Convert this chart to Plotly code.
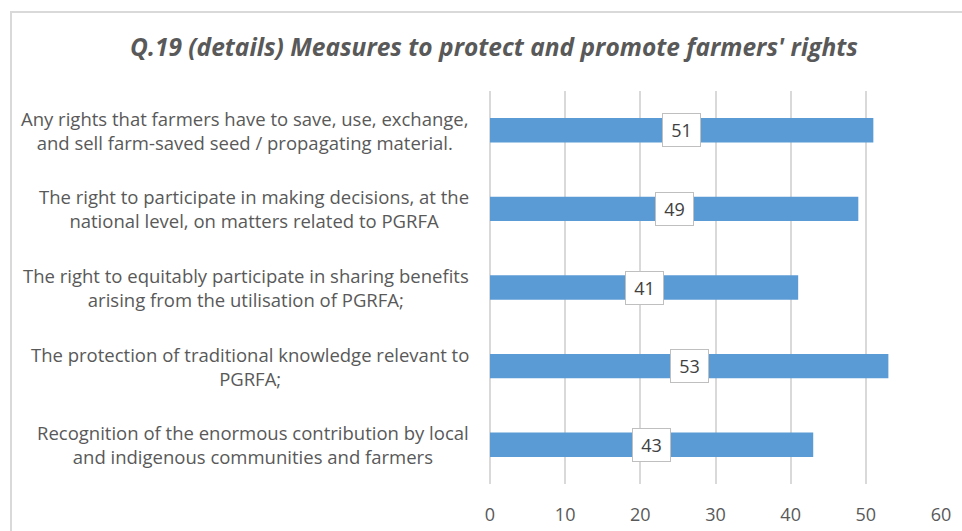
import plotly.graph_objects as go

# Survey items (top to bottom) and the number of responses for each
categories = [
    "Any rights that farmers have to save, use, exchange,<br>and sell farm-saved seed / propagating material.",
    "The right to participate in making decisions, at the<br>national level, on matters related to PGRFA",
    "The right to equitably participate in sharing benefits<br>arising from the utilisation of PGRFA;",
    "The protection of traditional knowledge relevant to<br>PGRFA;",
    "Recognition of the enormous contribution by local<br>and indigenous communities and farmers",
]
values = [51, 49, 41, 53, 43]
x_ticks = [0, 10, 20, 30, 40, 50, 60]

W, H = 962, 531
ML, MR, MT, MB = 490, 21, 91, 47

BAR = "#5B9BD5"
GRID = "#D9D9D9"
TEXT = "#595959"
FONT = "Open Sans"

fig = go.Figure(
    go.Bar(
        x=values,
        y=list(range(len(categories))),
        orientation="h",
        marker=dict(color=BAR, line=dict(width=0)),
        width=0.31,
        hoverinfo="x",
    )
)

# value labels in boxes, centred on each bar
for i, v in enumerate(values):
    fig.add_annotation(
        x=v / 2, y=i, xref="x", yref="y",
        text=str(v), showarrow=False,
        font=dict(family=FONT, size=18, color="#404040"),
        bgcolor="white", bordercolor="#BFBFBF", borderwidth=1,
        borderpad=1, width=35, height=30,
    )

# category labels: centred lines, block right-aligned next to the plot
pw = W - ML - MR
for i, c in enumerate(categories):
    fig.add_annotation(
        x=-19 / pw, y=i, xref="paper", yref="y",
        text=c, showarrow=False, xanchor="right", yanchor="middle",
        align="center",
        font=dict(family=FONT, size=18.5, color=TEXT),
    )

# outer chart frame (runs off the right and bottom edges)
ph = H - MT - MB
fig.add_shape(
    type="rect", xref="paper", yref="paper",
    x0=(11 - ML) / pw, x1=(W + 20 - ML) / pw,
    y0=-(H + 20 - (H - MB)) / ph, y1=(H - 12 - MB) / ph,
    line=dict(color="#D9D9D9", width=2), fillcolor="rgba(0,0,0,0)",
    layer="below",
)

fig.update_layout(
    width=W, height=H,
    margin=dict(l=ML, r=MR, t=MT, b=MB, autoexpand=False),
    paper_bgcolor="white", plot_bgcolor="white",
    showlegend=False,
    title=dict(
        text="<b><i>Q.19 (details) Measures to protect and promote farmers' rights</i></b>",
        x=494 / W, xref="container", xanchor="center",
        y=1 - 47 / H, yref="container", yanchor="middle",
        font=dict(family=FONT, size=24.5, color=TEXT),
    ),
    xaxis=dict(
        range=[0, 60], tickvals=x_ticks, ticktext=[str(t) for t in x_ticks],
        showgrid=True, gridcolor=GRID, gridwidth=1.5,
        zeroline=True, zerolinecolor=GRID, zerolinewidth=1.5,
        showline=False, ticks="", ticklabelstandoff=18,
        tickfont=dict(family=FONT, size=18, color=TEXT),
        automargin=False, fixedrange=True,
    ),
    yaxis=dict(
        range=[len(categories) - 0.5, -0.5],
        showticklabels=False, showgrid=False, zeroline=False,
        showline=False, ticks="", automargin=False, fixedrange=True,
    ),
)

fig.write_html("out.html")
